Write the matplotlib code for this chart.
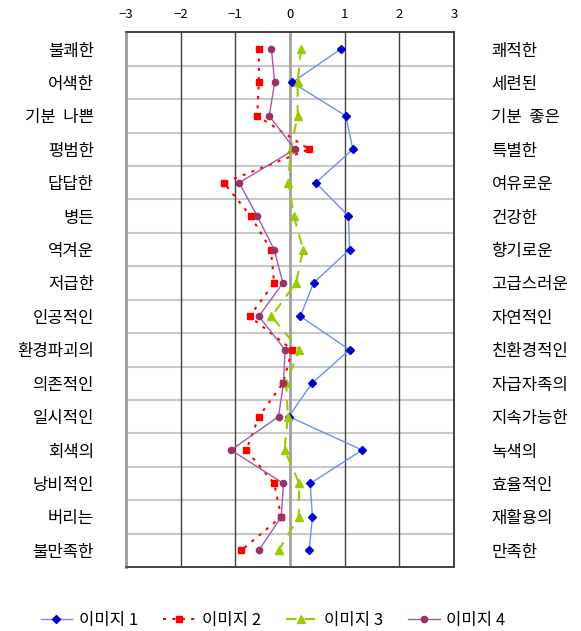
import matplotlib
matplotlib.use("Agg")
import matplotlib.pyplot as plt

plt.rcParams['font.family'] = ['Noto Sans CJK KR', 'DejaVu Sans']

left_labels = ["불쾌한", "어색한", "기분  나쁜", "평범한", "답답한", "병든", "역겨운", "저급한",
               "인공적인", "환경파괴의", "의존적인", "일시적인", "회색의", "낭비적인", "버리는", "불만족한"]
right_labels = ["쾌적한", "세련된", "기분  좋은", "특별한", "여유로운", "건강한", "향기로운", "고급스러운",
                "자연적인", "친환경적인", "자급자족의", "지속가능한", "녹색의", "효율적인", "재활용의", "만족한"]

img1 = [0.93, 0.04, 1.02, 1.15, 0.47, 1.07, 1.09, 0.43, 0.19, 1.09, 0.40, -0.02, 1.32, 0.37, 0.41, 0.35]
img2 = [-0.57, -0.57, -0.60, 0.35, -1.21, -0.72, -0.35, -0.29, -0.74, 0.04, -0.13, -0.57, -0.80, -0.29, -0.16, -0.89]
img3 = [0.20, 0.14, 0.14, 0.01, -0.03, 0.07, 0.24, 0.11, -0.34, 0.17, -0.07, -0.04, -0.10, 0.17, 0.16, -0.21]
img4 = [-0.34, -0.28, -0.38, 0.09, -0.93, -0.60, -0.29, -0.13, -0.57, -0.09, -0.12, -0.21, -1.08, -0.12, -0.16, -0.57]

rows = list(range(len(left_labels)))

fig = plt.figure(figsize=(5.81, 6.31), dpi=100)
ax = fig.add_axes([0.2169, 0.1014, 0.5645, 0.8474])

# grid
for b in range(len(rows) - 1):
    ax.axhline(b + 0.5, color="#c8c8c8", lw=1.5, zorder=0)
for v in [-2, -1, 1, 2]:
    ax.axvline(v, color="#404040", lw=1, zorder=0)
ax.axvline(0, color="#a0a0a0", lw=2, zorder=0)

ax.plot(img1, rows, color="#6f8ff0", lw=1, marker="D", ms=4,
        mfc="#0000cc", mec="#0000cc", label="이미지 1")
ax.plot(img2, rows, color="#ff0000", lw=1.5, ls=(0, (1.5, 3)), marker="s", ms=5,
        mfc="#ff0000", mec="#ff0000", label="이미지 2")
ax.plot(img3, rows, color="#99cc00", lw=1.5, ls=(0, (5, 4)), marker="^", ms=5.5,
        mfc="#99cc00", mec="#99cc00", label="이미지 3")
ax.plot(img4, rows, color="#a55aa5", lw=1, marker="o", ms=4.5,
        mfc="#993366", mec="#993366", label="이미지 4")

ax.set_xlim(-3, 3)
ax.set_ylim(len(rows) - 0.5, -0.5)
ax.set_xticks(range(-3, 4))
ax.xaxis.tick_top()
ax.tick_params(axis="x", length=0, pad=8, labelsize=9.5)
ax.set_xticklabels(["\u22123", "\u22122", "\u22121", "0", "1", "2", "3"])

ax.set_yticks(rows)
ax.set_yticklabels(left_labels, fontsize=12)
ax.tick_params(axis="y", length=0, pad=23)

ax2 = ax.twinx()
ax2.set_ylim(ax.get_ylim())
ax2.set_yticks(rows)
ax2.set_yticklabels(right_labels, fontsize=12)
ax2.tick_params(axis="y", length=0, pad=27)

for a in (ax, ax2):
    for s in ["top", "right", "bottom"]:
        a.spines[s].set_color("#404040")
        a.spines[s].set_linewidth(1.2)
    a.spines["left"].set_color("#a0a0a0")
    a.spines["left"].set_linewidth(2)

fig.legend(loc="center", bbox_to_anchor=(0.47, 0.017), ncol=4, frameon=False,
           fontsize=12, handlelength=1.9, columnspacing=1.5, handletextpad=0.4)

fig.savefig("out.png", dpi=100)
